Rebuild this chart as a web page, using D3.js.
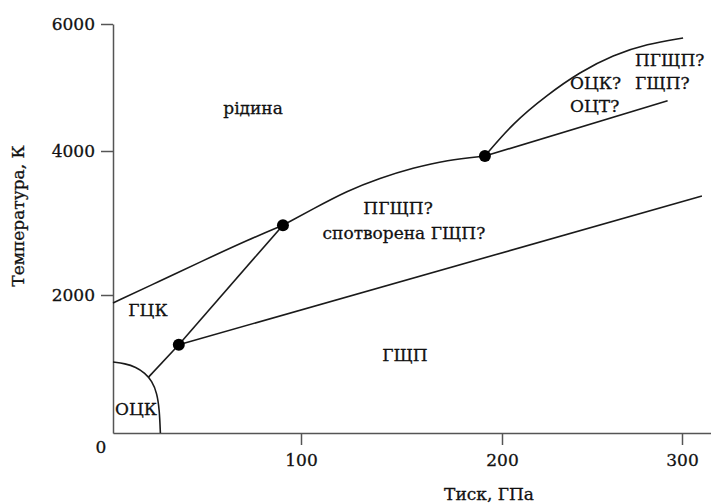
<!DOCTYPE html>
<html>
<head>
<meta charset="utf-8">
<script src="https://cdn.jsdelivr.net/npm/d3@7"></script>
<style>
  body { margin: 0; background: #fff; }
  svg text { font-family: "DejaVu Serif", serif; fill: #111; stroke: #111; stroke-width: 0.3px; }
</style>
</head>
<body>
<script>
var WIDTH = 711, HEIGHT = 504

// data (pressure GPa, temperature K)
var xTicks = [100, 200, 300]
var yTicks = [2000, 4000, 6000]
var triplePoints = [[35, 1280], [90.4, 2970], [191.5, 3930]]
var meltingLow = [[0, 1884], [25, 2194], [46.3, 2458], [72.9, 2778], [90.4, 2970]]
var meltingHigh = [[90.4, 2970], [106, 3195], [122.9, 3445], [139.3, 3625], [155.7, 3764], [172.6, 3875], [191.5, 3930]]
var upperCurve = [[191.5, 3930], [206.1, 4441], [225, 4882], [243.3, 5244], [261.7, 5512], [280.6, 5685], [300.6, 5780]]
var upperLine = [[191.5, 3930], [292, 4790]]
var hcpLine = [[35, 1280], [311, 3375]]
var fccHcpLine = [[35, 1280], [90.4, 2970]]
var bccFccLine = [[18.9, 810], [35, 1280]]
var bccArc = [[0, 1029], [6.4, 1007], [12.2, 956], [17, 869], [20.7, 753], [23.4, 580], [24.7, 333], [25.2, 0]]

var phaseLabels = [
  {text: 'рідина', p: 74.5, t: 4680, anchor: 'middle'},
  {text: 'ГЦК', p: 18.6, t: 1780, anchor: 'middle'},
  {text: 'ОЦК', p: 12.2, t: 350, anchor: 'middle'},
  {text: 'ГЩП', p: 151.7, t: 1130, anchor: 'middle'},
  {text: 'ПГЩП?', p: 148.3, t: 3208, anchor: 'middle'},
  {text: 'спотворена ГЩП?', p: 151.2, t: 2861, anchor: 'middle'},
  {text: 'ОЦК?', p: 237.8, t: 5071, anchor: 'start'},
  {text: 'ОЦТ?', p: 237.8, t: 4709, anchor: 'start'},
  {text: 'ПГЩП?', p: 273.9, t: 5433, anchor: 'start'},
  {text: 'ГЩП?', p: 273.9, t: 5071, anchor: 'start'}
]

// the printed figure is not evenly spaced, so the scales are piecewise
var x = d3.scaleLinear().domain([0, 100, 200, 300, 316]).range([113, 301, 502, 682, 711])
var y = d3.scaleLinear().domain([0, 2000, 4000, 6000]).range([433, 295, 151, 24])

var svg = d3.select('body').append('svg')
  .attr('width', WIDTH)
  .attr('height', HEIGHT)

var fs = 17

// axes
svg.append('g')
  .attr('transform', 'translate(0,' + y(0) + ')')
  .call(d3.axisBottom(x).tickValues(xTicks).tickFormat(d3.format('d')).tickSize(12).tickSizeOuter(0).tickPadding(9))
svg.append('g')
  .attr('transform', 'translate(' + x(0) + ',0)')
  .call(d3.axisLeft(y).tickValues(yTicks).tickFormat(d3.format('d')).tickSize(12).tickSizeOuter(0).tickPadding(6))

svg.selectAll('.domain, .tick line').attr('stroke', '#555').attr('stroke-width', 1.5)
svg.selectAll('.tick text').style('font-family', '"DejaVu Serif", serif').style('font-size', fs + 'px').attr('fill', '#111')

svg.append('text')
  .attr('x', x(0) - 12).attr('y', y(0) + 14)
  .attr('dy', '0.35em')
  .attr('text-anchor', 'middle')
  .style('font-size', fs + 'px')
  .text('0')

svg.append('text')
  .attr('x', 489).attr('y', 500)
  .attr('text-anchor', 'middle')
  .style('font-size', fs + 'px')
  .text('Тиск, ГПа')

svg.append('text')
  .attr('transform', 'translate(18,216) rotate(-90)')
  .attr('dy', '0.35em')
  .attr('text-anchor', 'middle')
  .style('font-size', fs + 'px')
  .text('Температура, К')

// phase boundaries
var line = d3.line().x(function(d){ return x(d[0]) }).y(function(d){ return y(d[1]) })
var curve = d3.line().x(function(d){ return x(d[0]) }).y(function(d){ return y(d[1]) }).curve(d3.curveBasis)

var g = svg.append('g').attr('fill', 'none').attr('stroke', '#1a1a1a').attr('stroke-width', 1.6)
g.append('path').attr('d', curve(meltingLow))
g.append('path').attr('d', curve(meltingHigh))
g.append('path').attr('d', curve(upperCurve))
g.append('path').attr('d', curve(bccArc))
;[upperLine, hcpLine, fccHcpLine, bccFccLine].forEach(function(seg){
  g.append('path').attr('d', line(seg))
})

svg.append('g').selectAll('circle').data(triplePoints)
  .enter().append('circle')
  .attr('cx', function(d){ return x(d[0]) })
  .attr('cy', function(d){ return y(d[1]) })
  .attr('r', 6)
  .attr('fill', '#000')

svg.append('g').selectAll('text').data(phaseLabels)
  .enter().append('text')
  .attr('x', function(d){ return x(d.p) })
  .attr('y', function(d){ return y(d.t) })
  .attr('dy', '0.35em')
  .attr('text-anchor', function(d){ return d.anchor })
  .style('font-size', fs + 'px')
  .text(function(d){ return d.text })
</script>
</body>
</html>
